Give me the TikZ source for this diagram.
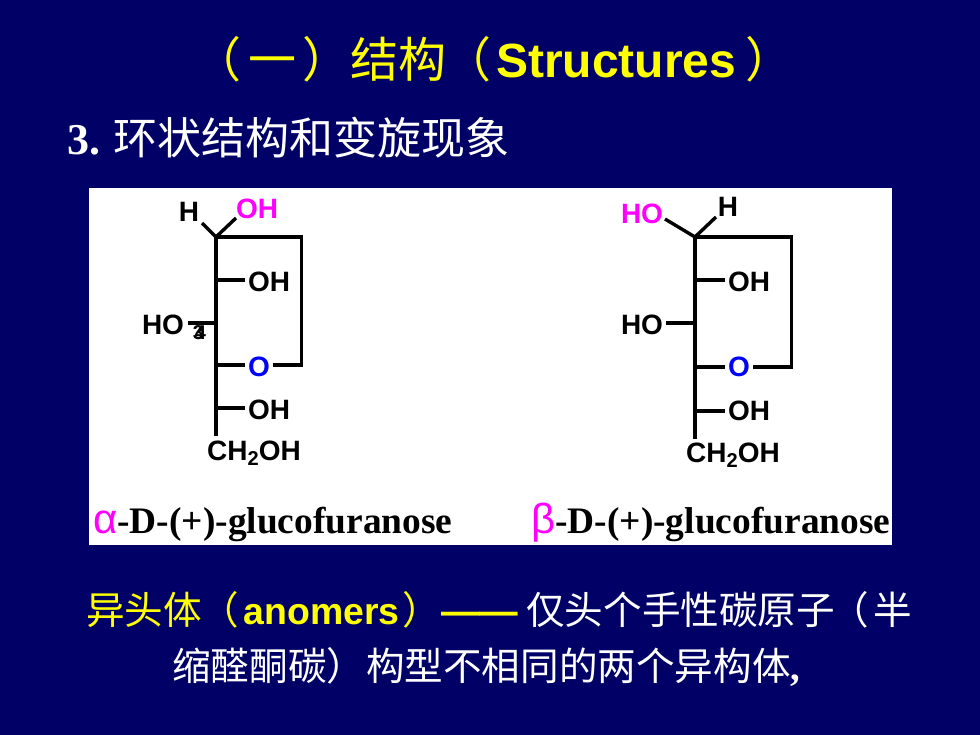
\documentclass[tikz,border=0pt]{standalone}
\usepackage{fontspec}
\setmainfont{Liberation Serif}
\setsansfont{Liberation Sans}
\newfontfamily\cjk{Noto Sans CJK SC}
\usetikzlibrary{positioning}
\definecolor{slidebg}{RGB}{0,0,102}
\definecolor{slideyellow}{RGB}{255,255,0}
\definecolor{hydroxy}{RGB}{255,0,255}
\definecolor{ringox}{RGB}{0,0,255}
\newcommand{\subtwo}{\raisebox{-5pt}{\fontsize{20}{20}\selectfont 2}}
\newcommand{\greekmark}[1]{\textcolor{hydroxy}{\textsf{\mdseries\fontsize{42}{42}\selectfont #1}}}
\tikzset{
  atom/.style={font=\sffamily\bfseries\fontsize{28}{28}\selectfont,inner sep=0pt,outer sep=3pt,text=black},
  tinyatom/.style={font=\sffamily\bfseries\fontsize{20}{20}\selectfont,inner sep=0pt,text=black},
  bond/.style={line width=3.4pt},
  caption/.style={font=\rmfamily\bfseries\fontsize{37.4}{37.4}\selectfont,inner sep=0pt,anchor=base west},
  cntext/.style={font=\cjk\fontsize{38.6}{38.6}\selectfont,inner sep=0pt,anchor=base west,text=white}
}
\begin{document}
\begin{tikzpicture}[x=1pt,y=-1pt]
  \useasboundingbox (0,0) rectangle (980,735);
  \fill[slidebg] (0,0) rectangle (980,735);
  \fill[white] (89,188) rectangle (892,545);

  % headings
  \node[cntext,text=slideyellow,font=\cjk\fontsize{48}{48}\selectfont] (title) at (206,78) {\kern-13pt（\kern7pt 一\kern6pt）结构\kern-3pt（\kern5pt\textsf{\bfseries Structures}\kern9pt）};
  \node[cntext,font=\cjk\fontsize{44}{44}\selectfont] (sub) at (67,155) {\textbf{\rmfamily 3.}\kern13pt 环状结构和变旋现象};

  % alpha
  \coordinate (a1) at (216,237);
  \coordinate (a2) at (216,280);
  \coordinate (a3) at (216,323);
  \coordinate (a4) at (216,365);
  \coordinate (a5) at (216,408);
  \coordinate (a6) at (216,436);
  \coordinate (ar) at (301.5,237);
  \coordinate (as) at (301.5,365);
  \coordinate (aHend) at (202,223);
  \coordinate (aOHend) at (236,218);
  \coordinate (aHOend) at (188,323);
  \node[atom] (aH) at (189,212) {H};
  \node[atom,text=hydroxy] (aOHm) at (257,209) {OH};
  \node[atom] (aOH2) at (269,282) {OH};
  \node[atom] (aHO) at (163,325) {HO};
  \node[atom,text=ringox] (aO) at (259,367) {O};
  \node[atom] (aOH4) at (269,410) {OH};
  \node[atom] (aCH) at (254,453) {CH\subtwo OH};
  \node[tinyatom] (a3lab) at (198.5,333) {3};
  \node[tinyatom] (a4lab) at (200.5,333) {4};
  \draw[bond] (a1) -- (a6);
  \draw[bond] (a1) -- (aHend);
  \draw[bond] (a1) -- (aOHend);
  \draw[bond,line join=miter] (a1) -- (ar) -- (as) -- (aO.east |- as);
  \draw[bond] (a2) -- (aOH2.west |- a2);
  \draw[bond] (a3) -- (aHOend);
  \draw[bond] (a4) -- (aO.west |- a4);
  \draw[bond] (a5) -- (aOH4.west |- a5);

  % beta
  \coordinate (b1) at (695,237);
  \coordinate (b2) at (695,280);
  \coordinate (b3) at (695,323);
  \coordinate (b4) at (695,367);
  \coordinate (b5) at (695,411);
  \coordinate (b6) at (695,439);
  \coordinate (br) at (791.5,237);
  \coordinate (bs) at (791.5,367);
  \coordinate (bHOend) at (665,219);
  \coordinate (bHend) at (716,217);
  \node[atom,text=hydroxy] (bHO) at (642,214) {HO};
  \node[atom] (bH) at (728,207) {H};
  \node[atom] (bOH2) at (749,282) {OH};
  \node[atom] (bHO3) at (642,325) {HO};
  \node[atom,text=ringox] (bO) at (739,367) {O};
  \node[atom] (bOH4) at (749,411) {OH};
  \node[atom] (bCH) at (733,455) {CH\subtwo OH};
  \draw[bond] (b1) -- (b6);
  \draw[bond] (b1) -- (bHOend);
  \draw[bond] (b1) -- (bHend);
  \draw[bond,line join=miter] (b1) -- (br) -- (bs) -- (bO.east |- bs);
  \draw[bond] (b2) -- (bOH2.west |- b2);
  \draw[bond] (b3) -- (bHO3.east |- b3);
  \draw[bond] (b4) -- (bO.west |- b4);
  \draw[bond] (b5) -- (bOH4.west |- b5);

  % captions
  \node[caption] (acap) at (93,533) {\greekmark{α}-D-(+)-glucofuranose};
  \node[caption] (bcap) at (531,533) {\greekmark{β}-D-(+)-glucofuranose};

  % bottom text
  \node[cntext] (line1) at (86,624) {\textcolor{slideyellow}{异头体\kern-2pt（\kern5pt\textsf{\bfseries\fontsize{37.4}{37.4}\selectfont anomers}\kern3pt）\textsf{\bfseries ——}}\kern8pt 仅头个手性碳原子\kern-5pt（\kern5pt 半};
  \node[cntext] (line2) at (172,680) {缩醛酮碳）\kern1pt 构型不相同的两个异构体\textbf{\rmfamily ,}};
\end{tikzpicture}
\end{document}
